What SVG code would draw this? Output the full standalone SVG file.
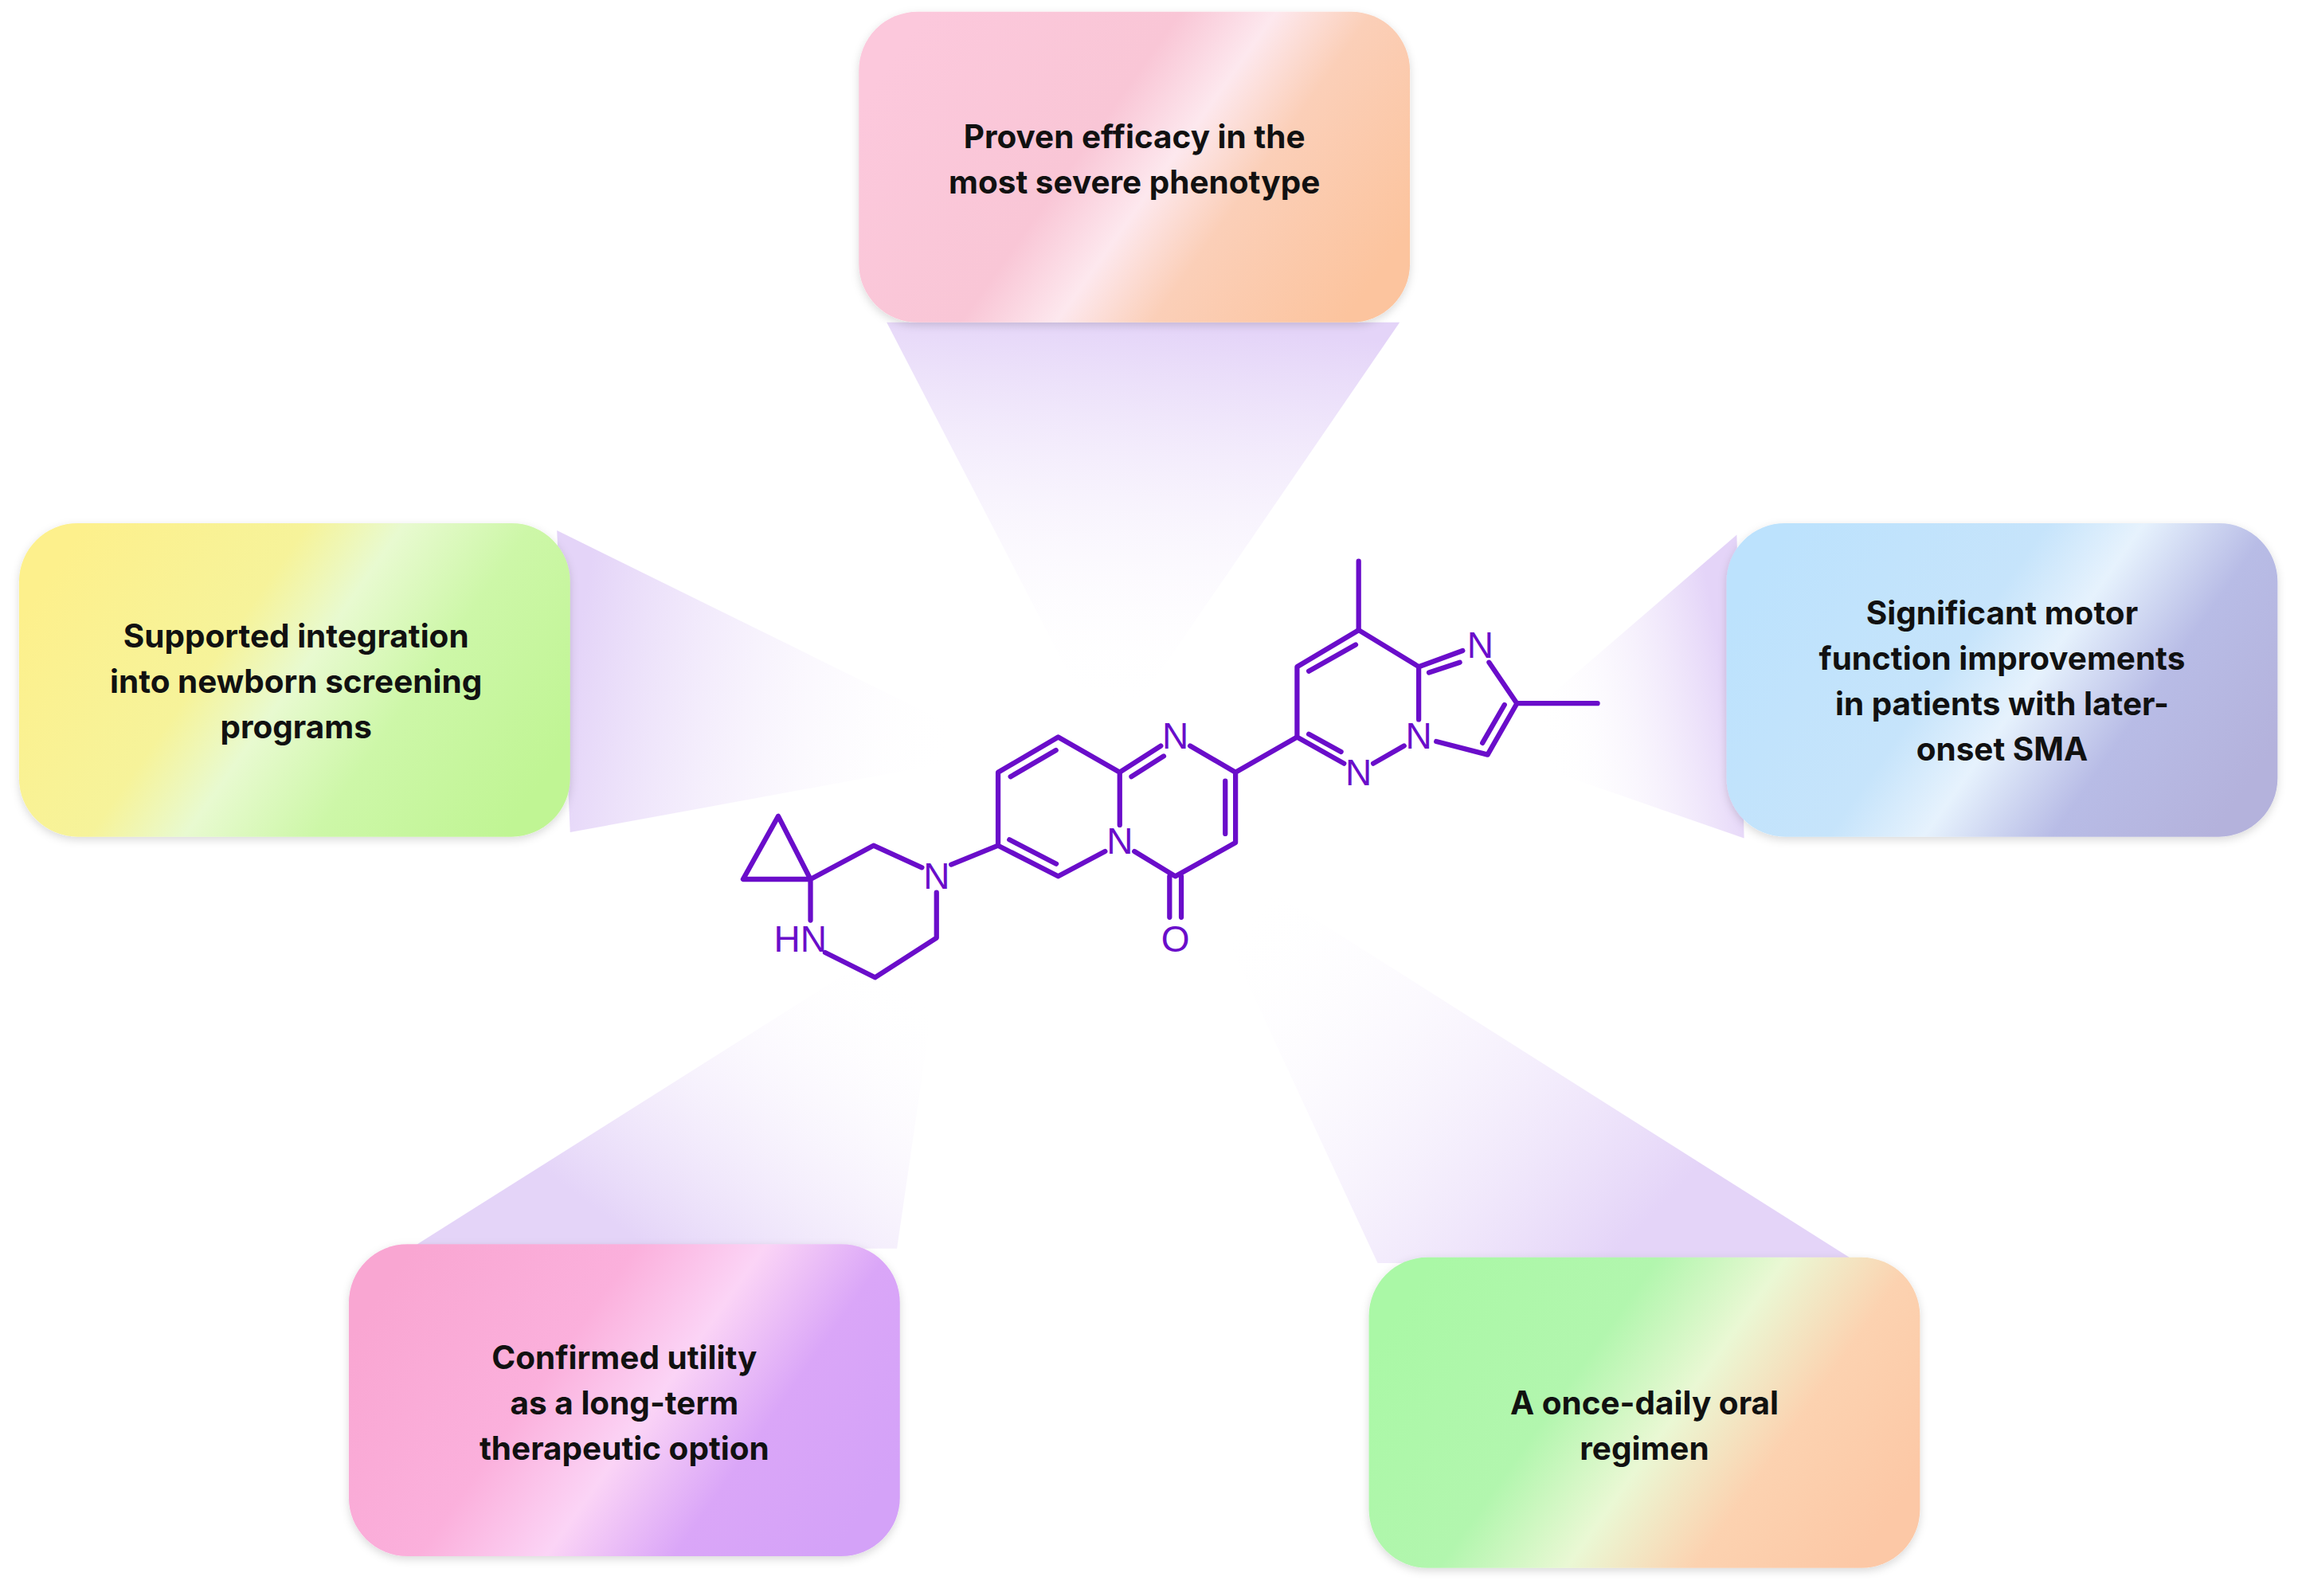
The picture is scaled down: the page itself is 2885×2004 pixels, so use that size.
<svg xmlns="http://www.w3.org/2000/svg" width="2885" height="2004" viewBox="0 0 2885 2004">
<style>
.t{font-family:Inter,"Liberation Sans",sans-serif;font-weight:700;font-size:22px;fill:#111;text-anchor:middle}
.b{stroke:#6a0dca;stroke-width:3.4;fill:none;stroke-linecap:round;stroke-linejoin:round}
.a{font-family:"Liberation Sans",Arial,sans-serif;font-size:25px;fill:#6a0dca;text-anchor:middle;dominant-baseline:central}
</style>
<defs>
<filter id="sh" x="-10%" y="-10%" width="120%" height="120%"><feDropShadow dx="0" dy="2" stdDeviation="3" flood-color="#000" flood-opacity="0.15"/></filter>
<linearGradient id="gTop" x1="0" y1="0.3" x2="1" y2="0.7"><stop offset="0" stop-color="#fcc8dc"/><stop offset="0.4" stop-color="#f9c6d6"/><stop offset="0.55" stop-color="#fde8ee"/><stop offset="0.7" stop-color="#fbcfb8"/><stop offset="1" stop-color="#fcc49e"/></linearGradient>
<linearGradient id="gLeft" x1="0" y1="0.3" x2="1" y2="0.7"><stop offset="0" stop-color="#fdf08c"/><stop offset="0.35" stop-color="#f6f39a"/><stop offset="0.5" stop-color="#e8fad0"/><stop offset="0.7" stop-color="#cdf7a8"/><stop offset="1" stop-color="#c0f594"/></linearGradient>
<linearGradient id="gRight" x1="0" y1="0.3" x2="1" y2="0.7"><stop offset="0" stop-color="#bce2fd"/><stop offset="0.4" stop-color="#c6e4fb"/><stop offset="0.55" stop-color="#e6f2fd"/><stop offset="0.75" stop-color="#b8bce6"/><stop offset="1" stop-color="#b4b2dc"/></linearGradient>
<linearGradient id="gBL" x1="0" y1="0.3" x2="1" y2="0.7"><stop offset="0" stop-color="#f9a6d2"/><stop offset="0.35" stop-color="#fbb0dc"/><stop offset="0.55" stop-color="#fbd4f6"/><stop offset="0.75" stop-color="#daa6f8"/><stop offset="1" stop-color="#d4a2f8"/></linearGradient>
<linearGradient id="gBR" x1="0" y1="0.3" x2="1" y2="0.7"><stop offset="0" stop-color="#aaf8a6"/><stop offset="0.35" stop-color="#b2f6ae"/><stop offset="0.55" stop-color="#eaf8d4"/><stop offset="0.75" stop-color="#fcd2b0"/><stop offset="1" stop-color="#fcc8a6"/></linearGradient>
<linearGradient id="bT" gradientUnits="userSpaceOnUse" x1="780" y1="220" x2="760" y2="480"><stop offset="0" stop-color="#e4d4f8"/><stop offset="1" stop-color="#ffffff" stop-opacity="0"/></linearGradient>
<linearGradient id="bL" gradientUnits="userSpaceOnUse" x1="389" y1="465" x2="650" y2="510"><stop offset="0" stop-color="#e4d4f8"/><stop offset="1" stop-color="#ffffff" stop-opacity="0"/></linearGradient>
<linearGradient id="bR" gradientUnits="userSpaceOnUse" x1="1178" y1="465" x2="1050" y2="490"><stop offset="0" stop-color="#e4d4f8"/><stop offset="1" stop-color="#ffffff" stop-opacity="0"/></linearGradient>
<linearGradient id="bBL" gradientUnits="userSpaceOnUse" x1="440" y1="850" x2="590" y2="650"><stop offset="0" stop-color="#e4d4f8"/><stop offset="1" stop-color="#ffffff" stop-opacity="0"/></linearGradient>
<linearGradient id="bBR" gradientUnits="userSpaceOnUse" x1="1100" y1="858" x2="850" y2="620"><stop offset="0" stop-color="#e4d4f8"/><stop offset="1" stop-color="#ffffff" stop-opacity="0"/></linearGradient>
</defs>
<rect width="2885" height="2004" fill="#fff"/>
<g transform="scale(1.84)">
<g id="beams">
<polygon points="605,220 955,220 770,490 745,490" fill="url(#bT)"/>
<polygon points="380,362 389,568 650,520 650,495" fill="url(#bL)"/>
<polygon points="1185,365 1190,572 1040,520 1040,490" fill="url(#bR)"/>
<polygon points="280,852 612,852 640,660 600,650" fill="url(#bBL)"/>
<polygon points="940,862 1268,862 870,610 830,625" fill="url(#bBR)"/>
</g>
<g id="node-top"><rect x="586" y="8" width="376" height="212" rx="40" fill="url(#gTop)" filter="url(#sh)"/><text class="t" x="774" y="101">Proven efficacy in the</text><text class="t" x="774" y="132">most severe phenotype</text></g>
<g id="node-left"><rect x="13" y="357" width="376" height="214" rx="40" fill="url(#gLeft)" filter="url(#sh)"/><text class="t" x="202" y="442">Supported integration</text><text class="t" x="202" y="473">into newborn screening</text><text class="t" x="202" y="504">programs</text></g>
<g id="node-right"><rect x="1178" y="357" width="376" height="214" rx="40" fill="url(#gRight)" filter="url(#sh)"/><text class="t" x="1366" y="426">Significant motor</text><text class="t" x="1366" y="457">function improvements</text><text class="t" x="1366" y="488">in patients with later-</text><text class="t" x="1366" y="519">onset SMA</text></g>
<g id="node-bl"><rect x="238" y="849" width="376" height="213" rx="40" fill="url(#gBL)" filter="url(#sh)"/><text class="t" x="426" y="934">Confirmed utility</text><text class="t" x="426" y="965">as a long-term</text><text class="t" x="426" y="996">therapeutic option</text></g>
<g id="node-br"><rect x="934" y="858" width="376" height="212" rx="40" fill="url(#gBR)" filter="url(#sh)"/><text class="t" x="1122" y="965">A once-daily oral</text><text class="t" x="1122" y="996">regimen</text></g>
<g id="molecule">
<path class="b" d="M531,557 L507,600 L553,600 Z M553,600 L596,577 L629,592 M639,609 L639,640 L597,667 L563,650 M553,600 L553,628 M649,590 L681,577"/>
<path class="b" d="M681,577 L681,527 L722,503 L764,527 L764,563 M754,581 L722,598 L681,577 M689.5,530 L720.5,512 M720.7,589.5 L688.7,573"/>
<path class="b" d="M764,527 L792,509 M772,530 L794,516 M812,509 L843,527 L843,575 L802,598 L774,581 M836,533 L836,569 M798,598 L798,626 M806,598 L806,626 M843,527 L885,503"/>
<path class="b" d="M885,503 L885,455 L927,430 L968,455 L968,491 M958,509 L937,521 M885,503 L917,521 M893,458 L925,440 M893,501 L915,513"/>
<path class="b" d="M968,455 L998,444 M975,459 L996,452 M1016,452 L1035,480 L1015,515 L980,506 M1026.5,481 L1011.5,507 M927,430 L927,383 M1035,480 L1090,480"/>
<text class="a" x="639" y="598">N</text>
<text class="a" x="546" y="641">HN</text>
<text class="a" x="764" y="574">N</text>
<text class="a" x="802" y="502">N</text>
<text class="a" x="802" y="641">O</text>
<text class="a" x="968" y="502">N</text>
<text class="a" x="927" y="527">N</text>
<text class="a" x="1010" y="440">N</text>
</g>
</g>
</svg>
